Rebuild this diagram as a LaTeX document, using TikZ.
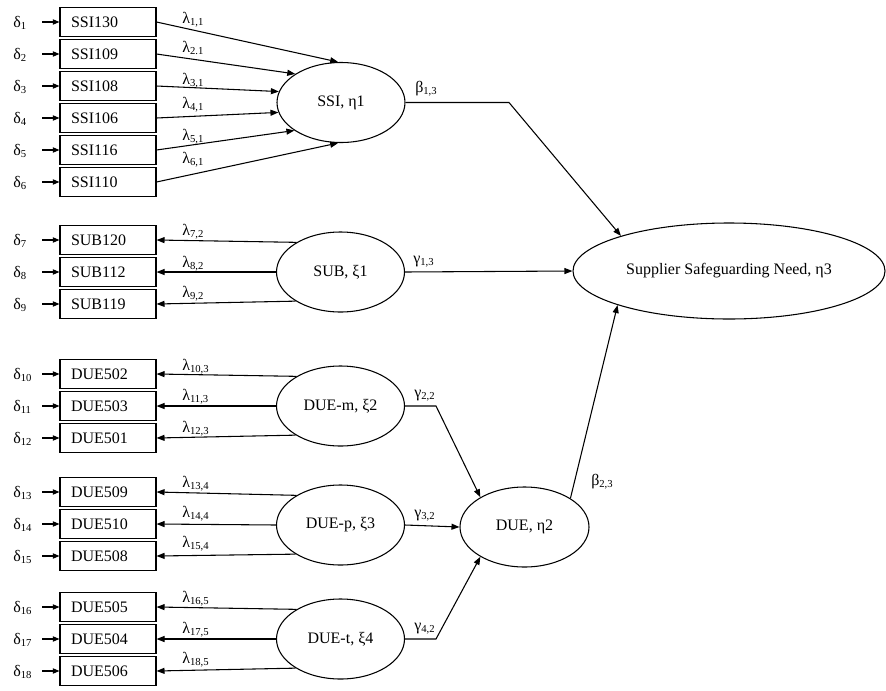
\documentclass[tikz,border=0pt]{standalone}
\usepackage{fontspec}
\setmainfont{Liberation Serif}
\usetikzlibrary{shapes.geometric,arrows.meta}

\tikzset{
  txt/.style={font=\fontsize{12}{14}\selectfont},
  indicator/.style={txt, draw, line width=0.8pt, minimum height=21.6pt,
    text width=55.5pt, inner xsep=8.25pt, inner ysep=0pt, align=left},
  latent/.style={txt, draw, ellipse, line width=0.8pt, minimum width=96pt,
    minimum height=60pt, inner sep=0pt},
  errlab/.style={txt, anchor=base west, inner sep=0pt},
  coef/.style={txt, anchor=base west, inner sep=0pt},
  effect/.style={line width=0.8pt, -{Triangle[length=6pt,width=4.5pt]}},
  errpath/.style={line width=0.8pt, -{Triangle[length=5pt,width=4pt]}},
}

\begin{document}
\begin{tikzpicture}[x=0.75pt,y=-0.75pt]
\useasboundingbox (0,0) rectangle (886,690);

% observed indicators with their error terms
\foreach \n/\t/\y in {1/SSI130/22, 2/SSI109/54, 3/SSI108/86, 4/SSI106/118,
    5/SSI116/150, 6/SSI110/182, 7/SUB120/240, 8/SUB112/272, 9/SUB119/304,
    10/DUE502/374, 11/DUE503/406, 12/DUE501/438, 13/DUE509/492,
    14/DUE510/524, 15/DUE508/556, 16/DUE505/607, 17/DUE504/639, 18/DUE506/671}{
  \node[indicator] (s\n) at (108,\y) {\t};
  \node[errlab] (d\n) at (13,\y+5) {δ\textsubscript{\n}};
  \draw[errpath] ([xshift=-12.75pt]s\n.west) -- (s\n.west);
}

% latent constructs
\node[latent] (ssi) at (341,102.5) {SSI, η1};
\node[latent] (sub) at (340.5,272) {SUB, ξ1};
\node[latent] (duem) at (340.5,406) {DUE-m, ξ2};
\node[latent] (duep) at (340.5,525) {DUE-p, ξ3};
\node[latent] (duet) at (340.5,639) {DUE-t, ξ4};
\node[latent, minimum width=96.75pt] (due) at (524.5,527) {DUE, η2};
\node[latent, minimum width=234pt, minimum height=72pt] (sup) at (729,271)
  {Supplier Safeguarding Need, η3};

% formative indicators of SSI
\foreach \n/\a/\yl/\s in {1/94/23/{1,1}, 2/148.4/52/{2.1}, 3/170.7/84/{3,1},
    4/189.3/108/{4,1}, 5/211.6/140/{5,1}, 6/266/163/{6,1}}{
  \draw[effect] (s\n.east) -- (ssi.\a);
  \node[coef] (l\n) at (182,\yl) {λ\textsubscript{\s}};
}

% reflective indicators of the exogenous constructs
\foreach \n/\lat/\a/\yl/\s in {7/sub/146.6/235/{7,2}, 8/sub/180/267/{8,2},
    9/sub/213.4/297/{9,2}, 10/duem/146.6/370/{10,3}, 11/duem/180/400/{11,3},
    12/duem/213.4/432/{12,3}, 13/duep/146.6/487/{13,4}, 14/duep/180/517/{14,4},
    15/duep/213.4/547/{15,4}, 16/duet/146.6/602/{16,5}, 17/duet/180/633/{17,5},
    18/duet/213.4/663/{18,5}}{
  \draw[effect] (\lat.\a) -- (s\n.east);
  \node[coef] (l\n) at (182,\yl) {λ\textsubscript{\s}};
}

% structural paths
\coordinate (k13) at (509,102.5);
\coordinate (k22) at (436,406);
\coordinate (k42) at (436,639);
\draw[effect] (ssi.east) -- (k13) -- (sup.162);
\draw[effect] (sub.east) -- (sup.west);
\draw[effect] (duem.east) -- (k22) -- (due.146);
\draw[effect] (duep.east) -- (due.west);
\draw[effect] (duet.east) -- (k42) -- (due.214);
\draw[effect] (due.32) -- (sup.197.8);

\node[coef] (b13) at (415,92) {β\textsubscript{1,3}};
\node[coef] (g13) at (413,263) {γ\textsubscript{1,3}};
\node[coef] (g22) at (414,397) {γ\textsubscript{2,2}};
\node[coef] (g32) at (414,517) {γ\textsubscript{3,2}};
\node[coef] (g42) at (414,630) {γ\textsubscript{4,2}};
\node[coef] (b23) at (591,485) {β\textsubscript{2,3}};
\end{tikzpicture}
\end{document}
